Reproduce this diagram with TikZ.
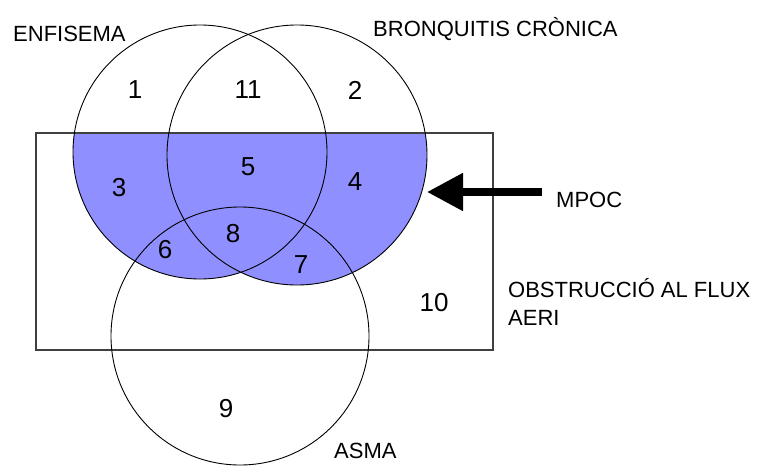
\documentclass[tikz,border=0pt]{standalone}
\usepackage{fontspec}
\setmainfont{Liberation Sans}
\usetikzlibrary{arrows.meta}
\definecolor{mpocblue}{RGB}{143,143,255}
\begin{document}
\begin{tikzpicture}[x=1pt,y=-1pt,
  venn/.style={line width=0.9pt},
  lbl/.style={anchor=base west,inner sep=0pt,font=\fontsize{22}{26}\selectfont},
  num/.style={font=\fontsize{26}{30}\selectfont},
  mpocarrow/.style={line width=8pt,-{Triangle[length=36pt,width=36pt]}}]
  \useasboundingbox (0,0) rectangle (758,466);
  \coordinate (enf) at (200,152);
  \coordinate (bron) at (297,155);
  \coordinate (asma) at (240,336);
  % zona MPOC
  \begin{scope}
    \clip (36,133) rectangle (493,350);
    \fill[mpocblue] (enf) circle (127pt) (bron) circle (130pt);
  \end{scope}
  \draw[line width=1.2pt,black!75] (36,133) rectangle (493,350);
  \draw[venn] (enf) circle (127pt);
  \draw[venn] (bron) circle (130pt);
  \draw[venn] (asma) circle (129pt);
  % etiquetes
  \node[lbl] (enfisema) at (13,41) {ENFISEMA};
  \node[lbl] (bronquitis) at (373,36) {BRONQUITIS CRÒNICA};
  \node[lbl] (mpoc) at (556,207) {MPOC};
  \node[lbl] (obstruccio) at (508,297) {OBSTRUCCIÓ AL FLUX};
  \node[lbl] (aeri) at (508,325) {AERI};
  \node[lbl] (asmalbl) at (334,458) {ASMA};
  % regions
  \node[num] (r1) at (135,90) {1};
  \node[num] (r2) at (355,90) {2};
  \node[num] (r3) at (119,188) {3};
  \node[num] (r4) at (355,182) {4};
  \node[num] (r5) at (248,167) {5};
  \node[num] (r6) at (165,250) {6};
  \node[num] (r7) at (301,265) {7};
  \node[num] (r8) at (233,234) {8};
  \node[num] (r9) at (226,409) {9};
  \node[num] (r10) at (434,303) {10};
  \node[num] (r11) at (248,90) {11};
  % fletxa
  \coordinate (tip) at (427,192);
  \draw[mpocarrow,shorten <=14pt] (mpoc.west |- tip) -- (tip);
\end{tikzpicture}
\end{document}
